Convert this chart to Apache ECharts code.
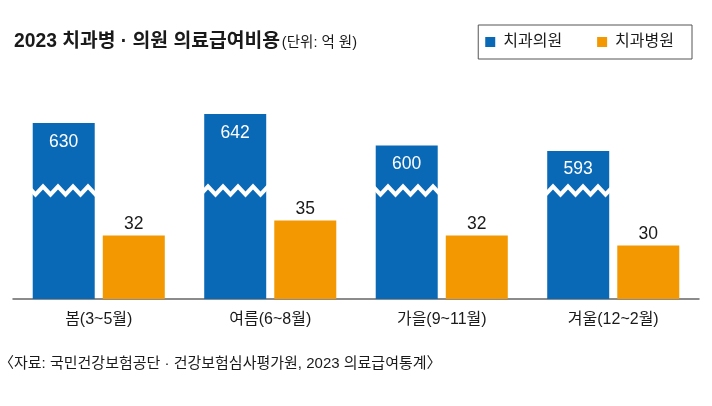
<!DOCTYPE html>
<html>
<head>
<meta charset="utf-8">
<script src="https://cdn.jsdelivr.net/npm/echarts@6/dist/echarts.min.js"></script>
<style>
  html, body { margin: 0; padding: 0; background: #fff; }
  #chart { width: 712px; height: 406px; }
</style>
</head>
<body>
<div id="chart"></div>
<script>
// ---- data ----
const categories = ['봄(3~5월)', '여름(6~8월)', '가을(9~11월)', '겨울(12~2월)'];
const seriesNames = ['치과의원', '치과병원'];
const clinicValues = [630, 642, 600, 593];   // 치과의원
const hospitalValues = [32, 35, 32, 30];     // 치과병원
const titleText = '2023 치과병 · 의원 의료급여비용';
const unitText = '(단위: 억 원)';
const sourceText = '〈자료: 국민건강보험공단 · 건강보험심사평가원, 2023 의료급여통계〉';

const FONT = "'Liberation Sans', 'Noto Sans CJK KR', sans-serif";
const BLUE = '#0a69b7';
const ORANGE = '#f39800';
const TEXT = '#1a1a1a';

const chart = echarts.init(document.getElementById('chart'), null, { renderer: 'canvas' });
chart.setOption({
  animation: false,
  backgroundColor: '#fff',
  textStyle: { fontFamily: FONT },
  title: [
    {
      left: 9, top: 27, padding: 5,
      text: '{a|' + titleText + '}{b|' + unitText + '}',
      textStyle: {
        fontWeight: 'normal',
        rich: {
          a: { fontFamily: FONT, fontSize: 19.3, fontWeight: 'bold', color: TEXT },
          b: { fontFamily: FONT, fontSize: 14.5, fontWeight: 'normal', color: TEXT, padding: [2, 0, 0, 2] }
        }
      }
    },
    {
      left: -1, top: 356, padding: 0,
      text: sourceText,
      textStyle: { fontFamily: FONT, fontSize: 15, fontWeight: 'normal', color: TEXT }
    }
  ],
  legend: {
    right: 20, top: 25,
    data: seriesNames,
    icon: 'rect',
    itemWidth: 10, itemHeight: 10,
    itemGap: 35,
    padding: [8, 18, 8, 7],
    borderColor: '#555', borderWidth: 1,
    textStyle: { fontFamily: FONT, fontSize: 16, lineHeight: 18, color: TEXT, padding: [0, 0, 0, 3] }
  },
  grid: { left: 13, right: 13, top: 99, bottom: 107, containLabel: false },
  xAxis: {
    type: 'category',
    data: categories,
    axisLine: { show: true, lineStyle: { color: '#666', width: 1.5 } },
    axisTick: { show: false },
    axisLabel: { fontFamily: FONT, fontSize: 16, color: TEXT, margin: 13 }
  },
  yAxis: [
    { type: 'value', min: 19.3, max: 59.3, show: false },
    {
      type: 'value', min: 0, max: 662,
      axisLine: { show: false }, axisTick: { show: false },
      axisLabel: { show: false }, splitLine: { show: false },
      breaks: [{ start: 141, end: 545, gap: 8 }],
      breakArea: {
        show: true,
        itemStyle: { color: '#fff', borderColor: '#fff', borderWidth: 0, opacity: 1 },
        zigzagAmplitude: 4,
        zigzagMinSpan: 7.5,
        zigzagMaxSpan: 7.5,
        zigzagZ: 100,
        expandOnClick: false
      }
    }
  ],
  series: [
    {
      name: seriesNames[0], type: 'bar', yAxisIndex: 1,
      data: clinicValues,
      barWidth: 62, barGap: '13%',
      itemStyle: { color: BLUE },
      label: { show: true, position: 'insideTop', distance: 10, color: '#fff', fontFamily: FONT, fontSize: 17.5 }
    },
    {
      name: seriesNames[1], type: 'bar', yAxisIndex: 0,
      data: hospitalValues,
      barWidth: 62, barGap: '13%',
      itemStyle: { color: ORANGE },
      label: { show: true, position: 'top', distance: 3, color: TEXT, fontFamily: FONT, fontSize: 17.5 }
    }
  ]
});
</script>
</body>
</html>
